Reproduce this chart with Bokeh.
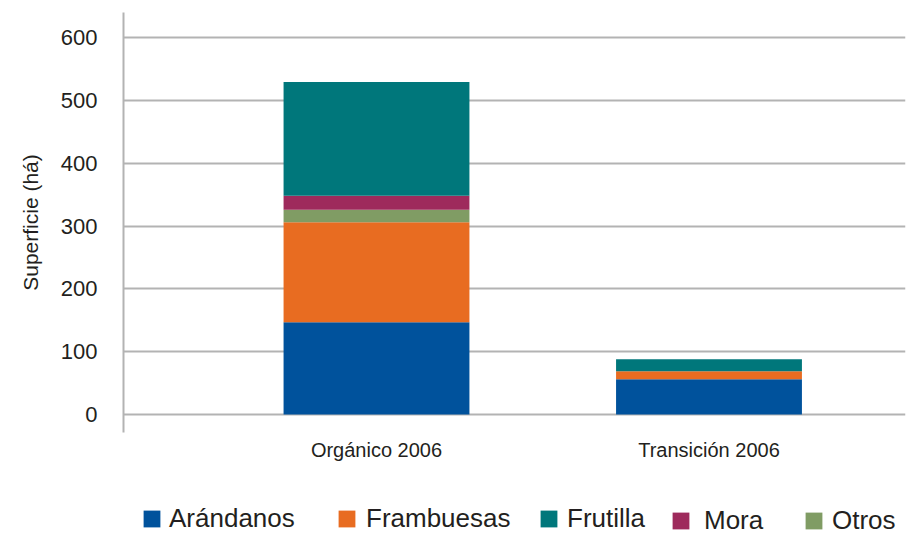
from bokeh.plotting import figure
from bokeh.layouts import column
from bokeh.models import Range1d, FixedTicker, Legend, LegendItem, ColumnDataSource
from bokeh.embed import file_html
from bokeh.resources import INLINE

# ---- data ----
categories = ["Orgánico 2006", "Transición 2006"]
stack_order = ["Arándanos", "Frambuesas", "Otros", "Mora", "Frutilla"]
legend_order = ["Arándanos", "Frambuesas", "Frutilla", "Mora", "Otros"]
arandanos = [147, 56]
frambuesas = [159, 13]
otros = [20, 0]
mora = [22, 0]
frutilla = [181, 19]
y_ticks = [0, 100, 200, 300, 400, 500, 600]

colors = {
    "Arándanos": "#00529C",
    "Frambuesas": "#E86C21",
    "Frutilla": "#00777B",
    "Mora": "#9E2A5C",
    "Otros": "#809C64",
}

values = {
    "Arándanos": arandanos,
    "Frambuesas": frambuesas,
    "Otros": otros,
    "Mora": mora,
    "Frutilla": frutilla,
}

xs = list(range(1, len(categories) + 1))
data = {"x": xs}
data.update(values)
source = ColumnDataSource(data)

TEXT = "#231F20"
GRID = "#B3B3B3"
FONT = "Liberation Sans"
BAR_W = 0.559

p = figure(
    width=908, height=470,
    x_range=Range1d(0.2391, 2.591),
    y_range=Range1d(-28.6, 639.8),
    output_backend="svg", toolbar_location=None, title=None,
    min_border_left=123, min_border_right=3,
    min_border_top=12, min_border_bottom=38,
)
p.outline_line_color = None
p.background_fill_color = "white"
p.border_fill_color = "white"

p.vbar_stack(
    stack_order, x="x", width=BAR_W, source=source,
    fill_color=[colors[s] for s in stack_order], line_color=None,
)

# y axis
yax = p.yaxis[0]
yax.ticker = FixedTicker(ticks=y_ticks)
yax.axis_line_color = GRID
yax.axis_line_width = 2
yax.major_tick_line_color = None
yax.minor_tick_line_color = None
yax.major_label_standoff = 20
yax.major_label_text_font = FONT
yax.major_label_text_font_size = "22px"
yax.major_label_text_color = TEXT
yax.axis_label = "Superficie (há)"
yax.axis_label_text_font = FONT
yax.axis_label_text_font_size = "21px"
yax.axis_label_text_font_style = "normal"
yax.axis_label_text_color = TEXT
yax.axis_label_standoff = 16

# x axis
xax = p.xaxis[0]
xax.ticker = FixedTicker(ticks=xs)
xax.major_label_overrides = {x: c for x, c in zip(xs, categories)}
xax.axis_line_color = None
xax.major_tick_line_color = None
xax.minor_tick_line_color = None
xax.major_label_standoff = 0
xax.major_label_text_font = FONT
xax.major_label_text_font_size = "20px"
xax.major_label_text_color = TEXT

p.xgrid.grid_line_color = None
p.ygrid.ticker = FixedTicker(ticks=y_ticks)
p.ygrid.grid_line_color = GRID
p.ygrid.grid_line_width = 2

# ---- legend strip (separate figure below the chart, frame aligned with the chart) ----
lg = figure(
    width=908, height=64,
    x_range=Range1d(-101, -100), y_range=Range1d(1000, 2000),
    x_axis_type=None, y_axis_type=None,
    output_backend="svg", toolbar_location=None, title=None,
    min_border=0,
)
lg.outline_line_color = None
lg.xgrid.visible = False
lg.ygrid.visible = False
lg.background_fill_color = "white"
lg.border_fill_color = "white"

# same series (out of this strip's view) so that the legend has swatches
lg_renderers = lg.vbar_stack(
    stack_order, x="x", width=BAR_W, source=source,
    fill_color=[colors[s] for s in stack_order], line_color=None,
)
lmap = dict(zip(stack_order, lg_renderers))

leg_x = {"Arándanos": 18, "Frambuesas": 213, "Frutilla": 415, "Mora": 547, "Otros": 680}
leg_y = {"Arándanos": 0, "Frambuesas": 0, "Frutilla": 0, "Mora": -2, "Otros": -2}
leg_standoff = {"Arándanos": 7, "Frambuesas": 9, "Frutilla": 8, "Mora": 13, "Otros": 8}
for name in legend_order:
    leg = Legend(
        items=[LegendItem(label=name, renderers=[lmap[name]])],
        location=(leg_x[name], leg_y[name]),
        orientation="horizontal",
        glyph_width=21, glyph_height=21,
        label_standoff=leg_standoff[name],
        label_text_font=FONT,
        label_text_font_size="26px",
        label_text_color=TEXT,
        border_line_color=None,
        background_fill_alpha=0,
        padding=0, margin=0, spacing=0,
    )
    lg.add_layout(leg)

layout = column(p, lg, spacing=0)
open("out.html", "w").write(file_html(layout, INLINE))
